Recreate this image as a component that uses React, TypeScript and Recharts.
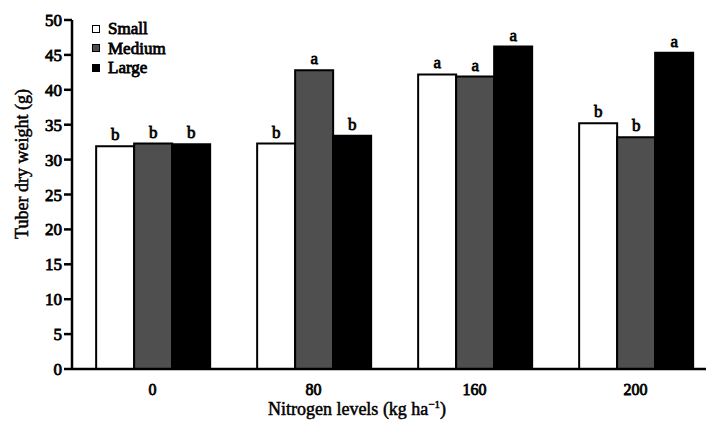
import { BarChart, Bar, XAxis, YAxis, LabelList, Label } from 'recharts';

const levels = ['0', '80', '160', '200'];
const small = [31.9, 32.3, 42.2, 35.2];
const medium = [32.3, 42.8, 41.9, 33.2];
const large = [32.2, 33.4, 46.2, 45.3];
const smallLetters = ['b', 'b', 'a', 'b'];
const mediumLetters = ['b', 'a', 'a', 'b'];
const largeLetters = ['b', 'b', 'a', 'a'];
const yTicks = [0, 5, 10, 15, 20, 25, 30, 35, 40, 45, 50];
const boundaryTicks = [1, 2, 3];

const data = levels.map((name, i) => ({
  name,
  idx: i + 0.5,
  small: small[i],
  medium: medium[i],
  large: large[i],
}));

const font = "'Liberation Serif', 'Times New Roman', serif";

const series = [
  { key: 'small', name: 'Small', fill: '#ffffff', letters: smallLetters },
  { key: 'medium', name: 'Medium', fill: '#4f4f4f', letters: mediumLetters },
  { key: 'large', name: 'Large', fill: '#000000', letters: largeLetters },
];

// heavy text: regular serif with a thin outline, like the bold Times of the figure
const heavy = { fontFamily: font, fontSize: 17, fill: '#000', stroke: '#000', strokeWidth: 0.8 };

const letterLabel = (letters: string[]) => (props: any) => {
  const { x, y, width, index } = props;
  return (
    <text x={x + width / 2} y={y - 6} textAnchor="middle" {...heavy}>
      {letters[index]}
    </text>
  );
};

export default function App() {
  return (
    <div style={{ position: 'absolute', left: 0, top: 0, width: 706, height: 423, background: '#fff' }}>
      <BarChart
        width={706}
        height={423}
        data={data}
        margin={{ top: 20, right: -10, left: 0, bottom: 0 }}
        barCategoryGap="15%"
        barGap={0}
      >
        <XAxis
          dataKey="name"
          xAxisId="cat"
          height={54}
          tickLine={false}
          axisLine={{ stroke: '#000', strokeWidth: 2.5 }}
          tick={{ ...heavy, fontSize: 16 }}
          tickMargin={9}
        >
          <Label
            content={() => (
              <text x={357} y={415} textAnchor="middle" fontFamily={font} fontSize={18} fill="#000" stroke="#000" strokeWidth={0.5}>
                Nitrogen levels (kg ha
                <tspan dy={-7} fontSize={11}>−1</tspan>
                <tspan dy={7}>)</tspan>
              </text>
            )}
          />
        </XAxis>
        <XAxis
          xAxisId="bound"
          type="number"
          dataKey="idx"
          domain={[0, 4]}
          ticks={boundaryTicks}
          height={0}
          axisLine={false}
          tick={false}
          tickSize={4}
          tickLine={{ stroke: '#000', strokeWidth: 2 }}
        />
        <YAxis
          width={72}
          domain={[0, 50]}
          ticks={yTicks}
          interval={0}
          tickSize={8}
          tickMargin={2}
          axisLine={{ stroke: '#000', strokeWidth: 2.5 }}
          tickLine={{ stroke: '#000', strokeWidth: 2.5 }}
          tick={heavy}
        >
          <Label
            content={() => (
              <text
                x={28}
                y={164}
                transform="rotate(-90 28 164)"
                textAnchor="middle"
                fontFamily={font}
                fontSize={18}
                fill="#000"
                stroke="#000"
                strokeWidth={0.5}
              >
                Tuber dry weight (g)
              </text>
            )}
          />
        </YAxis>
        {series.map((s) => (
          <Bar
            key={s.key}
            xAxisId="cat"
            dataKey={s.key}
            name={s.name}
            fill={s.fill}
            stroke="#000"
            strokeWidth={2}
            isAnimationActive={false}
          >
            <LabelList dataKey={s.key} content={letterLabel(s.letters)} />
          </Bar>
        ))}
      </BarChart>
      <div
        style={{
          position: 'absolute',
          left: 92,
          top: 19,
          fontFamily: font,
          fontSize: 17,
          lineHeight: '19.5px',
          WebkitTextStroke: '0.8px #000',
        }}
      >
        {series.map((s) => (
          <div key={s.key} style={{ display: 'flex', alignItems: 'center' }}>
            <span
              style={{
                display: 'inline-block',
                width: 6,
                height: 6,
                border: '1.5px solid #000',
                background: s.fill,
                marginRight: 8,
              }}
            />
            {s.name}
          </div>
        ))}
      </div>
    </div>
  );
}
